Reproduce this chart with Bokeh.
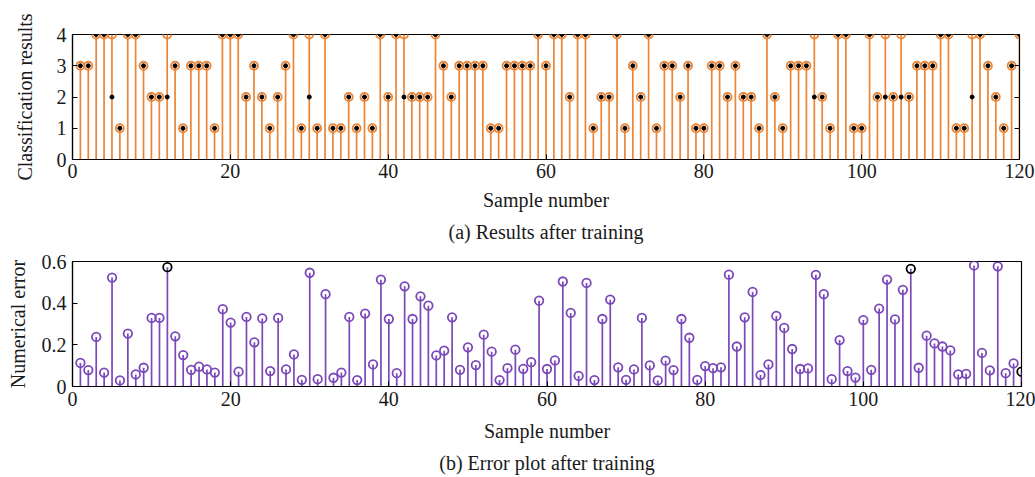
from bokeh.plotting import figure
from bokeh.layouts import column
from bokeh.models import Range1d, LinearAxis, FixedTicker, Title
from bokeh.embed import file_html
from bokeh.resources import INLINE

# ---------------- data ----------------
samples = list(range(1, 121))

true_class = [
    3, 3, 4, 4, 4, 1, 4, 4, 3, 2,
    2, 4, 3, 1, 3, 3, 3, 1, 4, 4,
    4, 2, 3, 2, 1, 2, 3, 4, 1, 4,
    1, 4, 1, 1, 2, 1, 2, 1, 4, 2,
    4, 4, 2, 2, 2, 4, 3, 2, 3, 3,
    3, 3, 1, 1, 3, 3, 3, 3, 4, 3,
    4, 4, 2, 4, 4, 1, 2, 2, 4, 1,
    3, 2, 4, 1, 3, 3, 2, 3, 1, 1,
    3, 3, 2, 3, 2, 2, 1, 4, 2, 1,
    3, 3, 3, 4, 2, 1, 4, 4, 1, 1,
    4, 2, 4, 2, 4, 2, 3, 3, 3, 4,
    4, 1, 1, 4, 4, 3, 2, 1, 3, 4,
]

predicted_class = [
    3, 3, 4, 4, 2, 1, 4, 4, 3, 2,
    2, 2, 3, 1, 3, 3, 3, 1, 4, 4,
    4, 2, 3, 2, 1, 2, 3, 4, 1, 2,
    1, 4, 1, 1, 2, 1, 2, 1, 4, 2,
    4, 2, 2, 2, 2, 4, 3, 2, 3, 3,
    3, 3, 1, 1, 3, 3, 3, 3, 4, 3,
    4, 4, 2, 4, 4, 1, 2, 2, 4, 1,
    3, 2, 4, 1, 3, 3, 2, 3, 1, 1,
    3, 3, 2, 3, 2, 2, 1, 4, 2, 1,
    3, 3, 3, 2, 2, 1, 4, 4, 1, 1,
    4, 2, 2, 2, 2, 2, 3, 3, 3, 4,
    4, 1, 1, 2, 4, 3, 2, 1, 3, 4,
]

numerical_error = [
    0.113, 0.079, 0.238, 0.067, 0.523, 0.029, 0.254, 0.058, 0.090, 0.329,
    0.329, 0.573, 0.241, 0.151, 0.080, 0.095, 0.082, 0.067, 0.371, 0.307,
    0.071, 0.334, 0.212, 0.327, 0.074, 0.329, 0.082, 0.154, 0.032, 0.546,
    0.035, 0.443, 0.042, 0.067, 0.334, 0.031, 0.350, 0.106, 0.513, 0.324,
    0.064, 0.481, 0.324, 0.433, 0.388, 0.149, 0.172, 0.332, 0.080, 0.188,
    0.103, 0.249, 0.167, 0.031, 0.088, 0.177, 0.085, 0.117, 0.412, 0.084,
    0.125, 0.504, 0.353, 0.051, 0.497, 0.031, 0.324, 0.417, 0.092, 0.032,
    0.082, 0.329, 0.101, 0.029, 0.124, 0.079, 0.324, 0.234, 0.032, 0.098,
    0.088, 0.092, 0.537, 0.192, 0.332, 0.454, 0.055, 0.106, 0.339, 0.281,
    0.180, 0.084, 0.087, 0.536, 0.443, 0.035, 0.223, 0.074, 0.043, 0.319,
    0.080, 0.374, 0.513, 0.322, 0.464, 0.565, 0.090, 0.244, 0.207, 0.192,
    0.173, 0.058, 0.061, 0.581, 0.161, 0.077, 0.577, 0.064, 0.111, 0.071,
]

# samples whose error marker is drawn in black
flagged_samples = [12, 106, 120]

x_ticks = [0, 20, 40, 60, 80, 100, 120]
class_ticks = [0, 1, 2, 3, 4]
error_ticks = [0, 0.2, 0.4, 0.6]

# ---------------- styling ----------------
FONT = "Liberation Serif"
FS = "20px"
ORANGE = "#EC8535"
PURPLE = "#7A48B8"
TXT = "#1a1a1a"


def style_axes(p):
    p.grid.visible = False
    p.outline_line_color = "black"
    p.outline_line_width = 1.2
    p.outline_line_alpha = 1.0
    for ax in p.axis:
        ax.axis_line_color = "black"
        ax.axis_line_width = 1.2
        ax.major_tick_in = 5
        ax.major_tick_out = 0
        ax.minor_tick_line_color = None
        ax.major_tick_line_color = "black"
        ax.major_label_text_font = FONT
        ax.major_label_text_font_size = FS
        ax.major_label_text_color = TXT
        ax.axis_label_text_font = FONT
        ax.axis_label_text_font_size = FS
        ax.axis_label_text_font_style = "normal"
        ax.axis_label_text_color = TXT


# ---------------- (a) classification results ----------------
p1 = figure(
    frame_width=947, frame_height=125,
    min_border_left=72, min_border_right=16,
    min_border_top=34, min_border_bottom=89,
    x_range=Range1d(0, 120), y_range=Range1d(0, 4),
    output_backend="svg", toolbar_location=None,
)
style_axes(p1)
p1.xaxis.ticker = FixedTicker(ticks=x_ticks)
p1.yaxis.ticker = FixedTicker(ticks=class_ticks)
p1.xaxis.axis_label = "Sample number"
p1.yaxis.axis_label = "Classification results"
p1.xaxis.major_label_standoff = 4
p1.xaxis.axis_label_standoff = 8
p1.yaxis.major_label_standoff = 6
p1.yaxis.axis_label_standoff = 18

# mirrored inward ticks on the right edge, without labels
right1 = LinearAxis(ticker=FixedTicker(ticks=[1, 2, 3]), major_tick_in=5,
                    major_tick_out=0, minor_tick_line_color=None,
                    axis_line_color="black",
                    major_label_overrides={1: "", 2: "", 3: ""})
p1.add_layout(right1, "right")

zeros = [0] * len(samples)
p1.segment(x0=samples, y0=zeros, x1=samples, y1=true_class,
           line_color=ORANGE, line_width=1.7)
p1.scatter(samples, true_class, marker="circle", size=8,
           line_color=ORANGE, line_width=1.8, fill_color=None)
p1.scatter(samples, predicted_class, marker="circle", size=4,
           line_color="black", fill_color="black")

p1.add_layout(Title(text="(a) Results after training", align="center",
                    text_font=FONT, text_font_size=FS, text_font_style="normal",
                    text_color=TXT, standoff=11), "below")

# ---------------- (b) numerical error ----------------
p2 = figure(
    frame_width=949, frame_height=125,
    min_border_left=72, min_border_right=14,
    min_border_top=13, min_border_bottom=91,
    x_range=Range1d(0, 120), y_range=Range1d(0, 0.6),
    output_backend="svg", toolbar_location=None,
)
style_axes(p2)
p2.xaxis.ticker = FixedTicker(ticks=x_ticks)
p2.yaxis.ticker = FixedTicker(ticks=error_ticks)
p2.yaxis.major_label_overrides = {0: "0", 0.2: "0.2", 0.4: "0.4", 0.6: "0.6"}
p2.xaxis.axis_label = "Sample number"
p2.yaxis.axis_label = "Numerical error"
p2.xaxis.major_label_standoff = 5
p2.xaxis.axis_label_standoff = 11
p2.yaxis.major_label_standoff = 6
p2.yaxis.axis_label_standoff = 10

normal_x = [s for s in samples if s not in flagged_samples]
normal_y = [e for s, e in zip(samples, numerical_error) if s not in flagged_samples]
flag_x = [s for s in samples if s in flagged_samples]
flag_y = [e for s, e in zip(samples, numerical_error) if s in flagged_samples]

p2.segment(x0=samples, y0=zeros, x1=samples, y1=numerical_error,
           line_color=PURPLE, line_width=1.7)
p2.scatter(normal_x, normal_y, marker="circle", size=8.5,
           line_color=PURPLE, line_width=1.8, fill_color=None)
p2.scatter(flag_x, flag_y, marker="circle", size=8.5,
           line_color="black", line_width=1.8, fill_color=None)

p2.add_layout(Title(text="(b) Error plot after training", align="center",
                    text_font=FONT, text_font_size=FS, text_font_style="normal",
                    text_color=TXT, standoff=10), "below")

layout = column(p1, p2, spacing=0)
open("out.html", "w").write(file_html(layout, INLINE))
